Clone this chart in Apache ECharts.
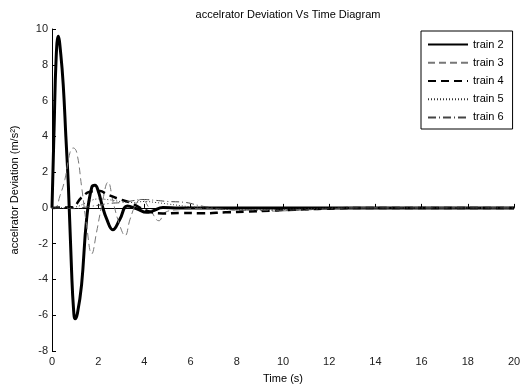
<!DOCTYPE html>
<html>
	<head>
		<meta charset="UTF-8">
		<title>accelrator Deviation Vs Time Diagram</title>
		<script type="text/javascript" src="https://cdn.jsdelivr.net/npm/echarts@6/dist/echarts.min.js"></script>
		<style>
			html,body{margin:0;padding:0;background:#fff;}
			#line-char{width:526px;height:389px;}
		</style>
	</head>
	<body>
		<div id="line-char"></div>
	</body>
</html>
<script type="text/javascript">
	// [time (s), deviation (m/s^2)]
	var train2 = [[0,0],[0.09,4.4],[0.18,8.4],[0.27,9.6],[0.38,8.6],[0.49,6.8],[0.6,4.0],[0.71,1.2],[0.85,-3.6],[0.93,-5.6],[1.0,-6.2],[1.1,-5.9],[1.28,-4.3],[1.5,-0.6],[1.72,1.15],[1.86,1.26],[2.0,0.95],[2.18,0.1],[2.37,-0.63],[2.63,-1.22],[2.94,-0.63],[3.26,0.1],[3.67,-0.05],[4.1,-0.25],[4.37,-0.17],[4.8,0.02],[5.5,0],[8,0],[12,0],[20,0]];
	var train3 = [[0,0],[0.13,0],[0.35,0.7],[0.56,1.6],[0.78,3.1],[0.92,3.35],[1.07,3.1],[1.28,1.2],[1.5,-1.0],[1.72,-2.57],[1.93,-1.35],[2.15,0.1],[2.43,1.44],[2.65,0.3],[2.94,-1.0],[3.16,-1.55],[3.38,-0.63],[3.67,0.3],[3.88,0.48],[4.24,-0.07],[4.63,-0.72],[4.9,-0.25],[5.5,-0.1],[6.5,-0.05],[7.5,-0.1],[8.5,-0.15],[9.5,-0.18],[10.5,-0.14],[11.5,-0.08],[12.5,-0.02],[13,0],[20,0]];
	var train4 = [[0,0],[0.4,0.02],[0.85,0.03],[1.28,0.58],[1.64,0.9],[2.08,0.95],[2.37,0.76],[2.94,0.48],[3.38,0.3],[3.8,0.02],[4.24,-0.22],[4.8,-0.31],[5.54,-0.28],[6.5,-0.3],[7.5,-0.25],[8.5,-0.2],[9.5,-0.15],[10.5,-0.1],[11.5,-0.06],[12.3,-0.03],[13,0],[20,0]];
	var train5 = [[0,0],[0.5,0.01],[1.0,0.05],[1.5,0.3],[2.0,0.5],[2.5,0.45],[3.0,0.35],[3.5,0.3],[4.0,0.36],[4.5,0.3],[5.0,0.22],[6.0,0.06],[7.0,-0.05],[8.0,-0.1],[9.0,-0.1],[10.0,-0.08],[11.0,-0.05],[12.0,-0.01],[13,0],[20,0]];
	var train6 = [[0,0],[0.5,-0.02],[1.0,-0.04],[1.5,0.05],[2.0,0.15],[2.5,0.25],[3.0,0.3],[3.5,0.4],[3.9,0.47],[4.5,0.42],[5.0,0.36],[5.8,0.3],[6.4,0.12],[7.0,0.0],[7.5,-0.08],[8.5,-0.12],[9.5,-0.15],[10.5,-0.12],[11.5,-0.08],[12.5,-0.02],[13,0],[20,0]];
	var seriesNames = ['train 2','train 3','train 4','train 5','train 6'];

	var font = '"Liberation Sans", Arial, sans-serif';

	function makeLine(name, data, color, width, type){
		return {
			name: name,
			type: 'line',
			data: data,
			showSymbol: false,
			symbol: 'none',
			smooth: 0.45,
			animation: false,
			lineStyle: {color: color, width: width, type: type},
			itemStyle: {color: color}
		};
	}

	var charContent = document.getElementById('line-char');
	var lineChar = echarts.init(charContent);
	var options = {
		animation: false,
		title: {
			text: 'accelrator Deviation Vs Time Diagram',
			left: 283,
			textAlign: 'center',
			top: 4,
			textStyle: {fontFamily: font, fontSize: 11, fontWeight: 'normal', color: '#000'}
		},
		legend: {
			show: true,
			data: seriesNames,
			orient: 'vertical',
			left: 421,
			top: 31,
			itemWidth: 40,
			itemHeight: 14,
			itemGap: 7,
			padding: [8, 9, 6, 6],
			borderColor: '#000',
			borderWidth: 1,
			backgroundColor: '#fff',
			itemStyle: {color: 'transparent', borderColor: 'transparent', borderWidth: 0, opacity: 0},
			textStyle: {fontFamily: font, fontSize: 11, color: '#000'}
		},
		grid: {
			left: 52,
			right: 12,
			top: 29,
			bottom: 36
		},
		xAxis: {
			type: 'value',
			min: 0,
			max: 20,
			interval: 2,
			name: 'Time (s)',
			nameLocation: 'middle',
			nameGap: 22,
			nameTextStyle: {fontFamily: font, fontSize: 11, color: '#000'},
			axisLine: {lineStyle: {color: '#000', width: 1}},
			axisTick: {inside: true, length: 4, lineStyle: {color: '#000'}},
			axisLabel: {fontFamily: font, fontSize: 11, color: '#222', margin: 5},
			splitLine: {show: false}
		},
		yAxis: {
			type: 'value',
			min: -8,
			max: 10,
			interval: 2,
			name: 'accelrator Deviation (m/s²)',
			nameLocation: 'middle',
			nameGap: 32,
			nameTextStyle: {fontFamily: font, fontSize: 11, color: '#000'},
			axisLine: {show: true, lineStyle: {color: '#000', width: 1}},
			axisTick: {show: true, inside: true, length: 4, lineStyle: {color: '#000'}},
			axisLabel: {fontFamily: font, fontSize: 11, color: '#222', margin: 4},
			splitLine: {show: false}
		},
		series: [
			makeLine('train 2', train2, '#000', 3, 'solid'),
			makeLine('train 3', train3, '#777', 1, [7, 4]),
			makeLine('train 4', train4, '#000', 2.5, [8, 5]),
			makeLine('train 5', train5, '#333', 1, [1, 2]),
			makeLine('train 6', train6, '#444', 1, [8, 3, 1, 3])
		]
	};
	lineChar.setOption(options);
</script>
